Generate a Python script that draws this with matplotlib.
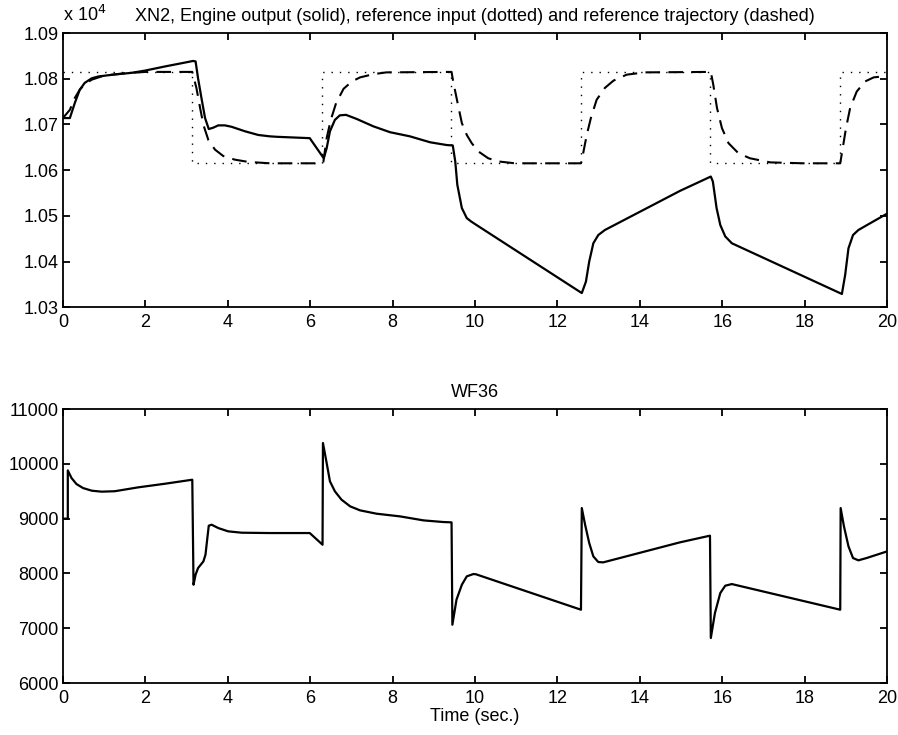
import matplotlib
matplotlib.use("Agg")
import matplotlib.pyplot as plt
from matplotlib.ticker import FuncFormatter

plt.rcParams["font.family"] = ["Liberation Sans", "DejaVu Sans"]
plt.rcParams["font.size"] = 13

# reference input (dotted), square wave switching every pi seconds
ref_t = [0, 3.14, 3.14, 6.28, 6.28, 9.42, 9.42, 12.57, 12.57, 15.71, 15.71, 18.85, 18.85, 20]
ref_v = [10815, 10815, 10615, 10615, 10815, 10815, 10615, 10615, 10815, 10815, 10615, 10615, 10815, 10815]

# reference trajectory (dashed)
traj_t = [0, 0.17, 0.29, 0.41, 0.53, 0.70, 1.0, 1.5, 2.0, 3.14,
          3.24, 3.33, 3.41, 3.53, 3.69, 3.89, 4.17, 4.50, 5.02, 6.28,
          6.32, 6.40, 6.50, 6.63, 6.81, 7.01, 7.21, 7.53, 7.85, 9.43,
          9.47, 9.57, 9.68, 9.80, 9.92, 10.08, 10.32, 10.57, 10.97, 12.57,
          12.63, 12.71, 12.81, 12.95, 13.15, 13.36, 13.68, 14.12, 15.72,
          15.78, 15.87, 15.99, 16.15, 16.39, 16.67, 17.16, 17.97, 18.86,
          18.92, 19.00, 19.10, 19.26, 19.46, 19.67, 19.87, 20.0]
traj_v = [10714, 10732, 10758, 10776, 10788, 10798, 10807, 10812, 10815, 10815,
          10780, 10736, 10699, 10666, 10645, 10631, 10623, 10618, 10615, 10615,
          10618, 10670, 10710, 10747, 10778, 10794, 10803, 10810, 10814, 10815,
          10794, 10750, 10703, 10677, 10659, 10641, 10626, 10619, 10615, 10615,
          10640, 10677, 10714, 10754, 10780, 10796, 10809, 10814, 10815,
          10787, 10736, 10692, 10659, 10637, 10626, 10617, 10615, 10615,
          10648, 10692, 10736, 10772, 10794, 10803, 10805, 10807]

# engine output XN2 (solid)
xn2_t = [0, 0.17, 0.29, 0.41, 0.53, 0.70, 0.86, 1.22, 1.67, 2.0, 2.48, 2.88, 3.16, 3.22,
         3.28, 3.37, 3.45, 3.54, 3.65, 3.77, 3.93, 4.09, 4.42, 4.74, 5.02, 5.19, 5.99,
         6.33, 6.40, 6.48, 6.60, 6.72, 6.87, 7.13, 7.53, 7.94, 8.42, 8.91, 9.31, 9.46,
         9.52, 9.57, 9.68, 9.80, 9.90, 10.0, 12.59,
         12.69, 12.77, 12.87, 12.99, 13.15, 14.98, 15.72,
         15.77, 15.86, 15.95, 16.07, 16.23, 18.90,
         18.98, 19.06, 19.17, 19.30, 19.59, 20.0]
xn2_v = [10714, 10714, 10747, 10776, 10791, 10801, 10805, 10809, 10813, 10818, 10827, 10834, 10839, 10838,
         10801, 10754, 10714, 10690, 10693, 10698, 10698, 10695, 10685, 10677, 10674, 10673, 10670,
         10626, 10648, 10685, 10710, 10720, 10721, 10712, 10696, 10683, 10674, 10661, 10655, 10654,
         10619, 10568, 10517, 10495, 10488, 10482, 10331,
         10356, 10400, 10440, 10458, 10469, 10555, 10586,
         10575, 10517, 10480, 10455, 10440, 10329,
         10371, 10429, 10458, 10469, 10484, 10505]

# fuel flow WF36
wf_t = [0, 0.12, 0.12, 0.21, 0.33, 0.49, 0.70, 0.94, 1.26, 1.83, 2.48, 3.14,
        3.17, 3.22, 3.28, 3.41, 3.46, 3.51, 3.54, 3.61, 3.77, 4.01, 4.34, 5.02, 5.99,
        6.30, 6.31, 6.40, 6.48, 6.60, 6.76, 6.97, 7.21, 7.61, 8.18, 8.75, 9.23, 9.43,
        9.45, 9.55, 9.68, 9.80, 9.96, 10.02, 12.57,
        12.59, 12.67, 12.77, 12.87, 12.99, 13.11, 14.97, 15.70,
        15.72, 15.82, 15.95, 16.07, 16.23, 18.86,
        18.87, 18.95, 19.06, 19.17, 19.30, 19.50, 20.0]
wf_v = [9000, 9000, 9880, 9741, 9631, 9558, 9510, 9492, 9500, 9571, 9637, 9710,
        7794, 7977, 8098, 8220, 8342, 8676, 8871, 8889, 8828, 8768, 8743, 8737, 8737,
        8524, 10380, 10015, 9680, 9498, 9346, 9224, 9151, 9090, 9041, 8968, 8938, 8932,
        7064, 7521, 7794, 7947, 7989, 7985, 7338,
        9193, 8889, 8555, 8311, 8208, 8202, 8567, 8689,
        6821, 7277, 7642, 7776, 7806, 7338,
        9193, 8859, 8494, 8281, 8239, 8281, 8403]


def matlab_axes(ax):
    for s in ax.spines.values():
        s.set_linewidth(1.3)
    ax.tick_params(direction="in", top=True, right=True, length=5, width=1.3, labelsize=13)
    ax.tick_params(axis="x", pad=5)
    ax.tick_params(axis="y", pad=3)
    ax.set_xlim(0, 20)
    ax.set_xticks(range(0, 21, 2))


fig = plt.figure(figsize=(8.98, 7.35), dpi=100)
ax1 = fig.add_axes([0.070, 0.582, 0.918, 0.373])
ax2 = fig.add_axes([0.070, 0.0707, 0.918, 0.3728])

ax1.plot(ref_t, ref_v, color="black", lw=1.0, linestyle=(0, (1, 5)))
ax1.plot(traj_t, traj_v, color="black", lw=1.5, linestyle=(0, (7, 4)))
ax1.plot(xn2_t, xn2_v, color="black", lw=1.6)
matlab_axes(ax1)
ax1.set_ylim(10300, 10900)
ax1.set_yticks(range(10300, 10901, 100))
ax1.yaxis.set_major_formatter(FuncFormatter(lambda v, p: f"{v / 1e4:.2f}"))
ax1.text(0, 1.028, "x 10$^4$", transform=ax1.transAxes, ha="left", va="bottom", fontsize=13)
ax1.set_title("XN2, Engine output (solid), reference input (dotted) and reference trajectory (dashed)",
              fontsize=13, pad=9)

ax2.plot(wf_t, wf_v, color="black", lw=1.6)
matlab_axes(ax2)
ax2.set_ylim(6000, 11000)
ax2.set_yticks(range(6000, 11001, 1000))
ax2.set_title("WF36", fontsize=13, pad=9)
ax2.set_xlabel("Time (sec.)", fontsize=13, labelpad=1)

fig.savefig("out.png", dpi=100)
